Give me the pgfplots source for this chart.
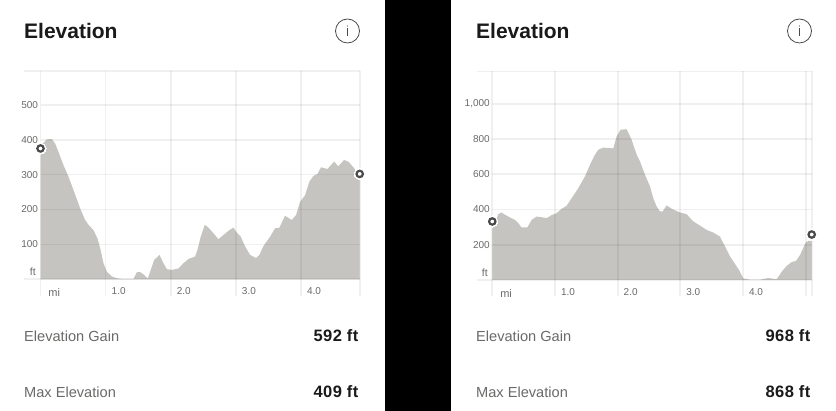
\documentclass[border=0pt]{standalone}
\usepackage{pgfplots}
\pgfplotsset{compat=1.18}
\usepackage{fontspec}
\setmainfont{Liberation Sans}
\newfontfamily\widebold[LetterSpace=2.5]{Liberation Sans}
\definecolor{area}{HTML}{C5C4C0}
\definecolor{txt}{HTML}{6A6A68}
\definecolor{ink}{HTML}{1A1A1A}
\definecolor{mk}{HTML}{4A4A4A}
\pgfplotstableread{
x y
0 378
0.046 391
0.097 401
0.174 402
0.225 389
0.276 365
0.353 327
0.43 294
0.506 256
0.609 203
0.685 170
0.737 156
0.813 141
0.875 117
0.916 89
0.967 46
1.018 22
1.095 8
1.171 3
1.274 1
1.427 1
1.478 20
1.529 21
1.581 14
1.647 2
1.693 27
1.744 55
1.826 70
1.887 46
1.939 29
2.015 27
2.118 31
2.194 46
2.271 58
2.297 60
2.373 65
2.409 84
2.46 122
2.522 156
2.578 148
2.655 132
2.731 115
2.808 127
2.9 141
2.962 148
3.013 134
3.074 122
3.141 94
3.217 70
3.309 61
3.361 70
3.422 95
3.524 122
3.601 146
3.668 148
3.754 182
3.857 170
3.923 184
3.985 222
4.061 241
4.128 280
4.189 296
4.251 302
4.307 321
4.404 316
4.506 337
4.573 324
4.66 342
4.726 337
4.803 321
4.854 308
4.9 302
}\lefttable
\pgfplotstableread{
x y
0 309
0.043 322
0.096 373
0.149 383
0.202 370
0.282 355
0.362 341
0.415 322
0.468 298
0.559 298
0.628 341
0.707 360
0.787 356
0.867 351
0.947 368
1.027 379
1.106 404
1.186 421
1.266 464
1.372 521
1.479 588
1.559 654
1.638 711
1.691 739
1.771 751
1.851 749
1.931 747
1.984 815
2.048 853
2.144 855
2.223 796
2.303 711
2.356 673
2.436 597
2.516 531
2.569 464
2.622 417
2.676 389
2.718 389
2.782 423
2.862 404
2.995 383
3.101 373
3.207 332
3.314 309
3.42 284
3.527 269
3.633 246
3.713 190
3.793 133
3.872 91
3.936 57
4.005 9
4.112 2
4.271 2
4.404 11
4.537 4
4.617 47
4.697 80
4.777 102
4.846 108
4.91 142
5.0 212
5.043 222
5.096 222
}\righttable
\pgfplotsset{
  elev/.style={
    scale only axis, clip=false, axis on top,
    axis line style={draw=none},
    anchor=origin,
    ymin=0, xmin=0,
    tick style={draw=none},
    grid=major,
    grid style={draw=black,opacity=0.06,line width=1.7pt},
    xticklabel style={font=\fontsize{10}{12}\selectfont,text=txt,xshift=13pt,yshift=-5pt},
    yticklabel style={font=\fontsize{10}{12}\selectfont,text=txt,xshift=1pt},
    /pgf/number format/assume math mode=true,
    xticklabel={\pgfmathprintnumber[fixed,fixed zerofill,precision=1]{\tick}},
  },
  guide/.style={draw=black,opacity=0.06,line width=1.7pt,forget plot},
  ringo/.style={only marks,mark=*,mark size=5.6pt,mark options={draw=white,fill=white,line width=0pt},forget plot},
  ringa/.style={only marks,mark=*,mark size=3.2pt,mark options={draw=mk,fill=white,line width=2.2pt},forget plot},
}
\begin{document}
\begin{tikzpicture}[x=1pt,y=1pt]
\useasboundingbox (0,0) rectangle (836,411);
\fill[white] (0,0) rectangle (836,411);
\fill[black] (384.5,0) rectangle (451,411);

% ---- left panel
\begin{axis}[elev, at={(40.5pt,131.7pt)}, width=319.2pt, height=208.3pt,
  xmax=4.9, ymax=597,
  xtick={1,2,3,4}, ytick={100,200,300,400,500}]
\addplot[fill=area,draw=none,forget plot] table[x=x,y=y]{\lefttable} \closedcycle;
\addplot[guide] coordinates {(0,0)(0,597)};
\addplot[guide] coordinates {(4.9,0)(4.9,597)};
\addplot[guide] coordinates {(-0.25,597)(4.9,597)};
\addplot[guide] coordinates {(-0.25,0)(4.9,0)};
\addplot[guide] coordinates {(0,0)(0,-48)};
\addplot[guide] coordinates {(1,0)(1,-48)};
\addplot[guide] coordinates {(2,0)(2,-48)};
\addplot[guide] coordinates {(3,0)(3,-48)};
\addplot[guide] coordinates {(4,0)(4,-48)};
\addplot[guide] coordinates {(4.9,0)(4.9,-48)};
\addplot[ringo] coordinates {(0,375)(4.9,302)};
\addplot[ringa] coordinates {(0,375)(4.9,302)};
\node[font=\fontsize{11}{13}\selectfont,text=txt,anchor=center] at (axis cs:0.21,-38) {mi};
\node[font=\fontsize{10.5}{13}\selectfont,text=txt,anchor=east,inner sep=0pt] at (axis cs:-0.07,21) {ft};
\end{axis}

% ---- right panel
\begin{axis}[elev, at={(492.3pt,131pt)}, width=319.4pt, height=208.5pt,
  xmax=5.096, ymax=1183,
  xtick={1,2,3,4,5}, xticklabels={1.0,2.0,3.0,4.0,},
  ytick={200,400,600,800,1000},
  yticklabel={\pgfmathprintnumber[1000 sep={,}]{\tick}}]
\addplot[fill=area,draw=none,forget plot] table[x=x,y=y]{\righttable} \closedcycle;
\addplot[guide] coordinates {(0,0)(0,1183)};
\addplot[guide] coordinates {(5.096,0)(5.096,1183)};
\addplot[guide] coordinates {(-0.25,1183)(5.096,1183)};
\addplot[guide] coordinates {(-0.25,0)(5.096,0)};
\addplot[guide] coordinates {(0,0)(0,-90)};
\addplot[guide] coordinates {(1,0)(1,-90)};
\addplot[guide] coordinates {(2,0)(2,-90)};
\addplot[guide] coordinates {(3,0)(3,-90)};
\addplot[guide] coordinates {(4,0)(4,-90)};
\addplot[guide] coordinates {(5,0)(5,-90)};
\addplot[guide] coordinates {(5.096,0)(5.096,-90)};
\addplot[ringo] coordinates {(0,332)(5.096,258)};
\addplot[ringa] coordinates {(0,332)(5.096,258)};
\node[font=\fontsize{11}{13}\selectfont,text=txt,anchor=center] at (axis cs:0.22,-74) {mi};
\node[font=\fontsize{10.5}{13}\selectfont,text=txt,anchor=east,inner sep=0pt] at (axis cs:-0.07,40) {ft};
\end{axis}

% ---- texts
\foreach \ox in {0,452}{
  \node[anchor=base west,inner sep=0pt,font=\fontsize{21}{26}\selectfont\bfseries,text=ink] at (24+\ox,372.7) {Elevation};
  \draw[draw=mk,line width=0.8pt] (347.5+\ox,380) circle (12);
  \fill[mk] (347.1+\ox,374.5) rectangle (347.9+\ox,382.5);
  \fill[mk] (347.5+\ox,385) circle (0.7);
  \node[anchor=base west,inner sep=0pt,font=\fontsize{14.6}{17}\selectfont,text=txt] at (24+\ox,69) {Elevation Gain};
  \node[anchor=base west,inner sep=0pt,font=\fontsize{14.6}{17}\selectfont,text=txt] at (24+\ox,13.3) {Max Elevation};
}
\node[anchor=base east,inner sep=0pt,font=\fontsize{16.5}{19}\selectfont\bfseries\widebold,text=ink] at (359,69) {\textbf{592 ft}};
\node[anchor=base east,inner sep=0pt,font=\fontsize{16.5}{19}\selectfont\bfseries\widebold,text=ink] at (359,13.3) {\textbf{409 ft}};
\node[anchor=base east,inner sep=0pt,font=\fontsize{16.5}{19}\selectfont\bfseries\widebold,text=ink] at (811,69) {\textbf{968 ft}};
\node[anchor=base east,inner sep=0pt,font=\fontsize{16.5}{19}\selectfont\bfseries\widebold,text=ink] at (811,13.3) {\textbf{868 ft}};
\end{tikzpicture}
\end{document}
